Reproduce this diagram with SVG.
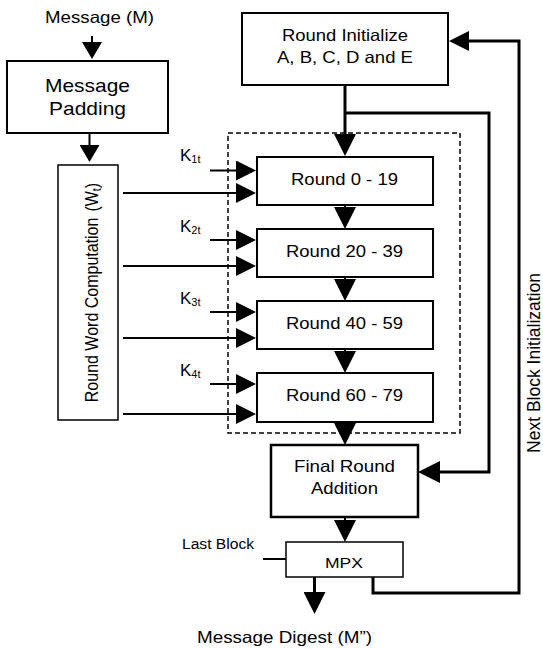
<svg xmlns="http://www.w3.org/2000/svg" width="543" height="649" viewBox="0 0 543 649">
  <style>
    text { font-family: "Liberation Sans", Arial, sans-serif; fill: #000; }
    .lbl { font-size: 16.5px; }
    .big { font-size: 18.5px; }
    .sm { font-size: 15.5px; }
    .xs { font-size: 14px; }
    .k { font-size: 17px; }
    .sub { font-size: 11px; }
    .box { fill: #fff; stroke: #000; stroke-width: 2; }
    .thin { fill: #fff; stroke: #000; stroke-width: 1.5; }
    .dash { fill: none; stroke: #000; stroke-width: 1.5; stroke-dasharray: 5 3; }
    .w { fill: none; stroke: #000; stroke-width: 2; }
    .thick { fill: none; stroke: #000; stroke-width: 3; }
  </style>
  <defs>
    <!-- filled triangular heads; base sits on the line end, tip points forward -->
    <marker id="head" viewBox="0 0 22 22" refX="0" refY="11" markerWidth="22" markerHeight="22" markerUnits="userSpaceOnUse" orient="auto">
      <path d="M0,0 L22,11 L0,22 z" fill="#000"/>
    </marker>
    <marker id="headS" viewBox="0 0 20 20" refX="0" refY="10" markerWidth="20" markerHeight="20" markerUnits="userSpaceOnUse" orient="auto">
      <path d="M0,0 L20,10 L0,20 z" fill="#000"/>
    </marker>
    <marker id="headT" viewBox="0 0 17 20" refX="0" refY="10" markerWidth="17" markerHeight="20" markerUnits="userSpaceOnUse" orient="auto">
      <path d="M0,0 L17,10 L0,20 z" fill="#000"/>
    </marker>
  </defs>

  <!-- dashed frame round the four round groups -->
  <rect class="dash" x="228" y="133" width="232" height="300"/>

  <g id="connectors">
    <!-- message in -->
    <path class="w" d="M92,36 V42" marker-end="url(#headT)"/>
    <path class="w" d="M89.5,133 V145" marker-end="url(#headT)"/>
    <!-- initial values into first round -->
    <path class="thick" d="M345,85 V134" marker-end="url(#head)"/>
    <!-- chaining values to final addition -->
    <path class="thick" d="M345,113 H489 V472 H440" marker-end="url(#head)"/>
    <!-- round to round -->
    <path class="w" d="M345,205 V207" marker-end="url(#head)"/>
    <path class="w" d="M345,277 V279" marker-end="url(#head)"/>
    <path class="w" d="M345,349 V351" marker-end="url(#head)"/>
    <path class="w" d="M345,422 V423" marker-end="url(#head)"/>
    <path class="w" d="M345,517 V520" marker-end="url(#head)"/>
    <!-- round constants -->
    <path class="w" d="M210,170.5 H236" marker-end="url(#headS)"/>
    <path class="w" d="M210,240 H236" marker-end="url(#headS)"/>
    <path class="w" d="M210,312 H236" marker-end="url(#headS)"/>
    <path class="w" d="M210,384 H236" marker-end="url(#headS)"/>
    <!-- round words -->
    <path class="w" d="M123,193 H236" marker-end="url(#headS)"/>
    <path class="w" d="M123,266 H236" marker-end="url(#headS)"/>
    <path class="w" d="M123,338 H236" marker-end="url(#headS)"/>
    <path class="w" d="M123,414 H236" marker-end="url(#headS)"/>
    <!-- last block select -->
    <path class="w" d="M263,559 H286"/>
    <!-- digest out -->
    <path class="thick" d="M314.5,577 V592" marker-end="url(#head)"/>
    <!-- next block feedback -->
    <path class="thick" d="M373,577 V593 H519 V41 H469" marker-end="url(#headS)"/>
  </g>

  <text class="lbl" x="99.5" y="23" text-anchor="middle" textLength="109" lengthAdjust="spacingAndGlyphs">Message (M)</text>

  <g id="padding">
    <rect class="box" x="7" y="61" width="161" height="72"/>
    <text class="big" x="87.5" y="92" text-anchor="middle" textLength="85" lengthAdjust="spacingAndGlyphs">Message</text>
    <text class="big" x="87.5" y="115" text-anchor="middle" textLength="77" lengthAdjust="spacingAndGlyphs">Padding</text>
  </g>

  <g id="round-word">
    <rect class="thin" x="58" y="165" width="60" height="255"/>
    <text class="lbl" transform="translate(97.5 292.5) rotate(-90) scale(1 1.13)" text-anchor="middle" style="font-size:16px">Round Word Computation<tspan dx="6">(W</tspan><tspan class="sub" dy="3">t</tspan><tspan dy="-3">)</tspan></text>
  </g>

  <g id="init">
    <rect class="box" x="242" y="13" width="206" height="72"/>
    <text class="lbl" x="345" y="41" text-anchor="middle" textLength="126" lengthAdjust="spacingAndGlyphs">Round Initialize</text>
    <text class="lbl" x="345" y="63" text-anchor="middle" textLength="136" lengthAdjust="spacingAndGlyphs">A, B, C, D and E</text>
  </g>

  <g id="k-labels">
    <text class="k" x="180" y="161">K<tspan class="sub" dy="2">1t</tspan></text>
    <text class="k" x="180" y="232">K<tspan class="sub" dy="2">2t</tspan></text>
    <text class="k" x="180" y="304">K<tspan class="sub" dy="2">3t</tspan></text>
    <text class="k" x="180" y="376">K<tspan class="sub" dy="2">4t</tspan></text>
  </g>

  <g id="round-0-19">
    <rect class="box" x="257" y="157" width="176" height="48"/>
    <text class="lbl" x="344.5" y="185" text-anchor="middle" textLength="107" lengthAdjust="spacingAndGlyphs">Round 0 - 19</text>
  </g>
  <g id="round-20-39">
    <rect class="box" x="257" y="229" width="176" height="48"/>
    <text class="lbl" x="344.5" y="257" text-anchor="middle" textLength="117" lengthAdjust="spacingAndGlyphs">Round 20 - 39</text>
  </g>
  <g id="round-40-59">
    <rect class="box" x="257" y="301" width="176" height="48"/>
    <text class="lbl" x="344.5" y="328.5" text-anchor="middle" textLength="117" lengthAdjust="spacingAndGlyphs">Round 40 - 59</text>
  </g>
  <g id="round-60-79">
    <rect class="box" x="257" y="373" width="176" height="49"/>
    <text class="lbl" x="344.5" y="400.5" text-anchor="middle" textLength="117" lengthAdjust="spacingAndGlyphs">Round 60 - 79</text>
  </g>

  <g id="final-addition">
    <rect class="box" x="271" y="445" width="147" height="72" style="stroke-width:2.5"/>
    <text class="lbl" x="344.5" y="472" text-anchor="middle" textLength="101" lengthAdjust="spacingAndGlyphs">Final Round</text>
    <text class="lbl" x="344.5" y="494" text-anchor="middle" textLength="67" lengthAdjust="spacingAndGlyphs">Addition</text>
  </g>

  <g id="mpx">
    <rect class="thin" x="286" y="542" width="117" height="35"/>
    <text class="sm" x="344" y="568" text-anchor="middle" textLength="38" lengthAdjust="spacingAndGlyphs">MPX</text>
  </g>

  <text class="xs" x="182" y="549" textLength="72" lengthAdjust="spacingAndGlyphs">Last Block</text>
  <text class="lbl" x="284.5" y="643" text-anchor="middle" textLength="175" lengthAdjust="spacingAndGlyphs">Message Digest (M”)</text>
  <text transform="translate(540 363) rotate(-90)" text-anchor="middle" style="font-size:17.5px">Next Block Initialization</text>
</svg>
